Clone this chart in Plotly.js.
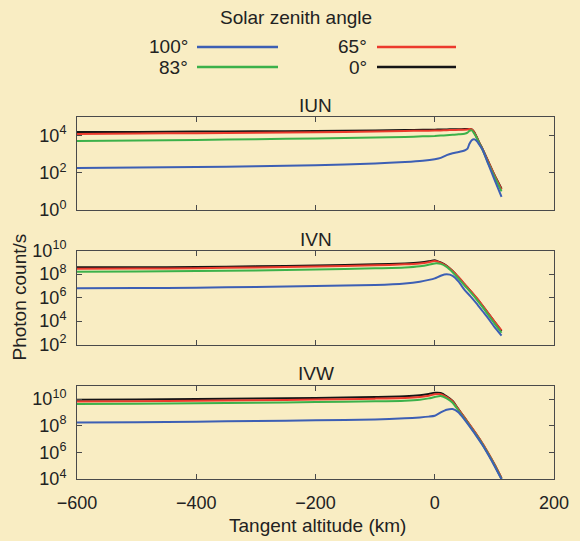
<!DOCTYPE html>
<html>
<head>
<meta charset="utf-8">
<script src="https://cdn.plot.ly/plotly-3.0.1.min.js"></script>
<style>html,body{margin:0;padding:0;background:#f9edc3;}#chart{width:580px;height:541px;}</style>
</head>
<body>
<div id="chart"></div>
<script>
// ---- Data (values are log10 of photon count/s) ----
const angleLabels = ['100°', '83°', '65°', '0°'];
const seriesColors = ['#3d5fb4', '#3cb14a', '#ec3a2c', '#151515'];

const altitudeIUN = [-600, -500, -400, -300, -200, -100, -50, -20, 0, 10, 20, 30, 40, 50, 55, 58, 62, 66, 70, 75, 80, 90, 100, 112];
const iun100 = [2.26, 2.28, 2.31, 2.35, 2.40, 2.50, 2.58, 2.65, 2.73, 2.80, 2.95, 3.05, 3.12, 3.20, 3.30, 3.55, 3.75, 3.80, 3.72, 3.50, 3.25, 2.45, 1.65, 0.70];
const iun83  = [3.71, 3.74, 3.77, 3.80, 3.85, 3.90, 3.93, 3.96, 3.98, 4.00, 4.02, 4.04, 4.07, 4.10, 4.16, 4.25, 4.28, 4.12, 3.90, 3.55, 3.25, 2.50, 1.80, 1.00];
const iun65  = [4.09, 4.11, 4.13, 4.15, 4.18, 4.22, 4.25, 4.26, 4.27, 4.28, 4.29, 4.30, 4.31, 4.32, 4.33, 4.35, 4.33, 4.18, 3.93, 3.58, 3.28, 2.58, 1.88, 1.10];
const iun0   = [4.19, 4.20, 4.22, 4.23, 4.25, 4.28, 4.30, 4.31, 4.32, 4.33, 4.33, 4.34, 4.34, 4.35, 4.35, 4.36, 4.34, 4.20, 3.95, 3.60, 3.30, 2.60, 1.90, 1.15];

const altitudeIV = [-600, -500, -400, -300, -200, -100, -50, -25, -10, 0, 10, 20, 30, 40, 50, 60, 70, 80, 90, 100, 112];
const ivn100 = [6.78, 6.80, 6.84, 6.90, 6.97, 7.07, 7.20, 7.35, 7.50, 7.63, 7.85, 7.97, 7.85, 7.35, 6.65, 6.10, 5.50, 4.85, 4.20, 3.50, 2.75];
const ivn83  = [8.20, 8.22, 8.25, 8.30, 8.38, 8.48, 8.55, 8.65, 8.78, 8.90, 8.86, 8.60, 8.15, 7.60, 7.02, 6.45, 5.85, 5.20, 4.50, 3.80, 3.00];
const ivn65  = [8.45, 8.46, 8.50, 8.56, 8.63, 8.74, 8.82, 8.90, 9.00, 9.10, 8.95, 8.68, 8.25, 7.72, 7.15, 6.58, 5.98, 5.33, 4.65, 3.98, 3.20];
const ivn0   = [8.57, 8.57, 8.60, 8.65, 8.72, 8.83, 8.90, 8.98, 9.08, 9.18, 8.98, 8.70, 8.25, 7.70, 7.12, 6.55, 5.95, 5.30, 4.63, 3.95, 3.15];

const ivw100 = [8.23, 8.26, 8.30, 8.35, 8.40, 8.47, 8.55, 8.62, 8.68, 8.75, 9.00, 9.20, 9.25, 9.00, 8.45, 7.85, 7.22, 6.55, 5.80, 5.00, 3.98];
const ivw83  = [9.62, 9.65, 9.68, 9.72, 9.77, 9.83, 9.88, 9.95, 10.05, 10.15, 10.22, 10.05, 9.72, 9.12, 8.52, 7.90, 7.27, 6.60, 5.85, 5.05, 4.00];
const ivw65  = [9.81, 9.84, 9.87, 9.91, 9.96, 10.03, 10.08, 10.15, 10.25, 10.35, 10.36, 10.15, 9.82, 9.20, 8.60, 7.98, 7.35, 6.68, 5.93, 5.13, 4.08];
const ivw0   = [9.94, 9.97, 10.00, 10.04, 10.08, 10.15, 10.20, 10.28, 10.38, 10.47, 10.45, 10.20, 9.85, 9.22, 8.60, 7.97, 7.33, 6.65, 5.90, 5.10, 4.05];

const xTickVals = [-600, -400, -200, 0, 200];
const xTickText = ['\u2212600', '\u2212400', '\u2212200', '0', '200'];
const panelNames = ['IUN', 'IVN', 'IVW'];

// ---- Build ----
const toCounts = arr => arr.map(v => Math.pow(10, v));
const panels = [
  {x: altitudeIUN, ys: [iun100, iun83, iun65, iun0], xa: 'x3', ya: 'y3'},
  {x: altitudeIV,  ys: [ivn100, ivn83, ivn65, ivn0], xa: 'x2', ya: 'y2'},
  {x: altitudeIV,  ys: [ivw100, ivw83, ivw65, ivw0], xa: 'x',  ya: 'y'}
];
const drawOrder = [3, 2, 1, 0]; // black underneath, blue on top
const traces = [];
panels.forEach(p => {
  drawOrder.forEach(i => {
    traces.push({
      type: 'scatter', mode: 'lines', x: p.x, y: toCounts(p.ys[i]),
      xaxis: p.xa, yaxis: p.ya, name: angleLabels[i], showlegend: false,
      line: {color: seriesColors[i], width: 2, shape: 'spline', smoothing: 0.6},
      hoverinfo: 'skip'
    });
  });
});

// pixel helpers for layout text positions
const L = 77, R = 554, T = 117, B = 479;
const px = v => (v - L) / (R - L);
const py = v => (B - v) / (B - T);

const FONT = 'Liberation Sans, Arial, Helvetica, sans-serif';
const frame = '#4a4a4a';
const baseX = {
  range: [-600, 200], tickvals: xTickVals, ticktext: xTickText,
  ticks: 'inside', ticklen: 5, tickcolor: frame, tickwidth: 1,
  showline: true, linecolor: frame, linewidth: 1, mirror: 'allticks',
  showgrid: false, zeroline: false, fixedrange: true,
  tickfont: {family: FONT, size: 18, color: '#222'}
};
const baseY = {
  type: 'log', ticks: 'inside', ticklen: 5, tickcolor: frame, tickwidth: 1,
  showline: true, linecolor: frame, linewidth: 1, mirror: 'allticks',
  showgrid: false, zeroline: false, fixedrange: true, ticklabelstandoff: 6,
  tickfont: {family: FONT, size: 18, color: '#222'}
};
const sup = n => '10<sup>' + n + '</sup>';

const layout = {
  width: 580, height: 541,
  margin: {l: L, r: 580 - R, t: T, b: 541 - B, pad: 0},
  paper_bgcolor: '#f9edc3', plot_bgcolor: '#f9edc3',
  font: {family: FONT, size: 19, color: '#222'},
  showlegend: false,
  xaxis: Object.assign({}, baseX, {anchor: 'y', ticklabelstandoff: 7}),
  xaxis2: Object.assign({}, baseX, {anchor: 'y2', matches: 'x', showticklabels: false}),
  xaxis3: Object.assign({}, baseX, {anchor: 'y3', matches: 'x', showticklabels: false}),
  yaxis: Object.assign({}, baseY, {anchor: 'x', domain: [0, py(385.7)], range: [4, 11],
    tickvals: [1e4, 1e6, 1e8, 1e10], ticktext: [4, 6, 8, 10].map(sup)}),
  yaxis2: Object.assign({}, baseY, {anchor: 'x2', domain: [py(344.5), py(250.5)], range: [2, 10],
    tickvals: [1e2, 1e4, 1e6, 1e8, 1e10], ticktext: [2, 4, 6, 8, 10].map(sup)}),
  yaxis3: Object.assign({}, baseY, {anchor: 'x3', domain: [py(210), 1], range: [0, 5],
    tickvals: [1, 1e2, 1e4], ticktext: [0, 2, 4].map(sup)}),
  annotations: [],
  shapes: []
};

const ann = (text, x, y, xanchor, extra) => Object.assign({
  text: text, xref: 'paper', yref: 'paper', x: px(x), y: py(y),
  xanchor: xanchor, yanchor: 'middle', showarrow: false,
  font: {family: FONT, size: 19, color: '#222'}
}, extra || {});

// panel titles
[105, 239, 373].forEach((yy, i) => layout.annotations.push(ann(panelNames[i], (L + R) / 2, yy, 'center')));
// axis titles
layout.annotations.push(ann('Tangent altitude (km)', 317, 525, 'center'));
layout.annotations.push(ann('Photon count/s', 19, 297.5, 'center', {textangle: -90}));
// legend
layout.annotations.push(ann('Solar zenith angle', 296, 18, 'center'));
const legendPos = [
  {tx: 190, y: 47, x0: 197, x1: 278},
  {tx: 190, y: 67, x0: 197, x1: 278},
  {tx: 369, y: 47, x0: 377, x1: 456},
  {tx: 369, y: 67, x0: 377, x1: 456}
];
angleLabels.forEach((lab, i) => {
  const p = legendPos[i];
  layout.annotations.push(ann(lab, p.tx, p.y, 'right'));
  layout.shapes.push({type: 'line', xref: 'paper', yref: 'paper',
    x0: px(p.x0), x1: px(p.x1), y0: py(p.y), y1: py(p.y),
    line: {color: seriesColors[i], width: 2.5}});
});

Plotly.newPlot('chart', traces, layout, {staticPlot: true, displayModeBar: false});
</script>
</body>
</html>
